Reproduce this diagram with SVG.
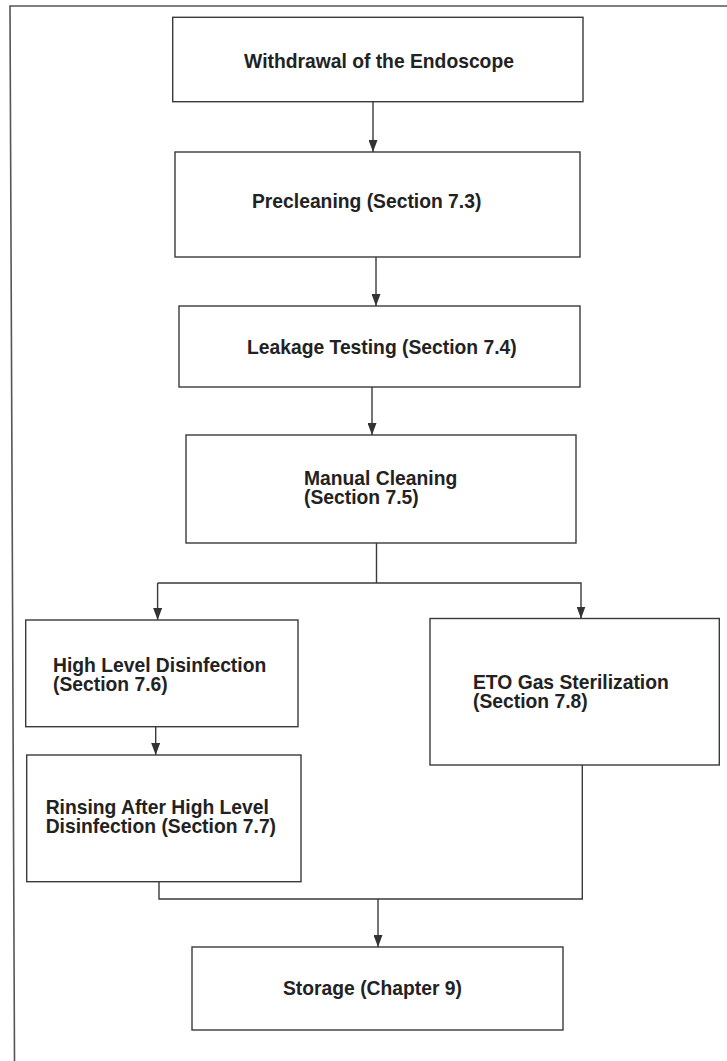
<svg xmlns="http://www.w3.org/2000/svg" width="727" height="1061" viewBox="0 0 727 1061">
<style>
.box{fill:#ffffff;stroke:#3a3a3a;stroke-width:1.4}
.lbl{font-family:"Liberation Sans",Arial,sans-serif;font-weight:bold;font-size:19.3px;fill:#222222}
.con{fill:none;stroke:#3a3a3a;stroke-width:1.4}
.frame{fill:none;stroke:#555555;stroke-width:1.6}
</style>
<defs>
<marker id="arr" markerUnits="userSpaceOnUse" markerWidth="12" markerHeight="9" refX="12" refY="4.5" orient="auto">
<path d="M0,0 L12,4.5 L0,9 z" fill="#333333"/>
</marker>
</defs>
<rect width="727" height="1061" fill="#ffffff"/>
<polyline class="frame" points="727,6 10,6 14.5,1061"/>
<g id="connectors">
<line class="con" x1="373" y1="102" x2="373" y2="152" marker-end="url(#arr)"/>
<line class="con" x1="376" y1="257" x2="376" y2="306" marker-end="url(#arr)"/>
<line class="con" x1="372" y1="387" x2="372" y2="435" marker-end="url(#arr)"/>
<line class="con" x1="376.5" y1="543" x2="376.5" y2="583"/>
<polyline class="con" points="157.6,583 581,583 581,618.5" marker-end="url(#arr)"/>
<line class="con" x1="157.6" y1="583" x2="157.6" y2="620" marker-end="url(#arr)"/>
<line class="con" x1="155.7" y1="727" x2="155.7" y2="755" marker-end="url(#arr)"/>
<polyline class="con" points="159,881.7 159,899 582.3,899 582.3,765"/>
<line class="con" x1="378" y1="899" x2="378" y2="947" marker-end="url(#arr)"/>
</g>
<g id="n1">
<rect class="box" x="172.7" y="17.3" width="410.3" height="84.4"/>
<text class="lbl" x="379" y="68" text-anchor="middle">Withdrawal of the Endoscope</text>
</g>
<g id="n2">
<rect class="box" x="175" y="152" width="405" height="105"/>
<text class="lbl" x="252" y="208">Precleaning (Section 7.3)</text>
</g>
<g id="n3">
<rect class="box" x="179" y="306" width="401" height="81"/>
<text class="lbl" x="247" y="354">Leakage Testing (Section 7.4)</text>
</g>
<g id="n4">
<rect class="box" x="186" y="435" width="390" height="108"/>
<text class="lbl" x="304" y="485">Manual Cleaning</text>
<text class="lbl" x="304" y="504">(Section 7.5)</text>
</g>
<g id="n5">
<rect class="box" x="25.7" y="620" width="272.3" height="106.7"/>
<text class="lbl" x="53" y="672">High Level Disinfection</text>
<text class="lbl" x="53" y="691">(Section 7.6)</text>
</g>
<g id="n6">
<rect class="box" x="430" y="618.5" width="289.3" height="146.5"/>
<text class="lbl" x="473" y="689">ETO Gas Sterilization</text>
<text class="lbl" x="473" y="708">(Section 7.8)</text>
</g>
<g id="n7">
<rect class="box" x="26.7" y="755" width="274.3" height="126.7"/>
<text class="lbl" x="45.7" y="814">Rinsing After High Level</text>
<text class="lbl" x="45.7" y="833">Disinfection (Section 7.7)</text>
</g>
<g id="n8">
<rect class="box" x="192" y="947" width="371" height="83"/>
<text class="lbl" x="283" y="995">Storage (Chapter 9)</text>
</g>
</svg>
